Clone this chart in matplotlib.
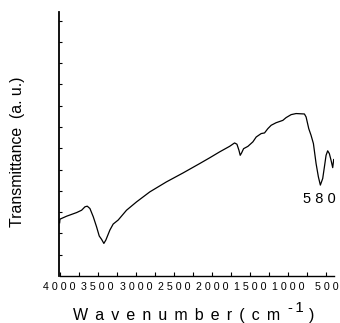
import matplotlib
matplotlib.use("Agg")
import matplotlib.pyplot as plt
from matplotlib.ticker import MultipleLocator, FixedLocator

plt.rcParams['font.family'] = ['Liberation Sans', 'DejaVu Sans']

wavenumber = [3998, 3994, 3906, 3775, 3710, 3666, 3636, 3601, 3557, 3514, 3479, 3448,
              3418, 3392, 3339, 3296, 3230, 3121, 2990, 2816, 2598, 2380, 2162, 2031,
              1900, 1769, 1704, 1673, 1647, 1630, 1612, 1586, 1529, 1464, 1420, 1355,
              1311, 1268, 1224, 1159, 1071, 1028, 962, 897, 788, 766, 731, 701, 670,
              635, 605, 579, 548, 526, 504, 483, 461, 439, 417, 404]
transmittance = [2.50, 2.67, 2.81, 2.98, 3.09, 3.25, 3.28, 3.17, 2.78, 2.31, 1.88, 1.72,
                 1.53, 1.69, 2.16, 2.44, 2.63, 3.09, 3.48, 3.95, 4.42, 4.84, 5.28, 5.55,
                 5.83, 6.09, 6.25, 6.19, 5.91, 5.67, 5.78, 5.98, 6.09, 6.30, 6.53, 6.69,
                 6.72, 6.92, 7.08, 7.20, 7.31, 7.44, 7.58, 7.63, 7.61, 7.47, 6.92, 6.61,
                 6.22, 5.28, 4.66, 4.27, 4.58, 5.12, 5.67, 5.88, 5.75, 5.44, 5.09, 5.47]
xticks = [4000, 3500, 3000, 2500, 2000, 1500, 1000, 500]
xticklabels = ["4 0 0 0", "3 5 0 0", "3 0 0 0", "2 5 0 0", "2 0 0 0", "1 5 0 0", "1 0 0 0", "5 0 0"]
peak_label = "5 8 0"
peak_pos = (591, 3.61)

W, H = 340, 323
fig = plt.figure(figsize=(W/100, H/100), dpi=100)
ax = fig.add_axes([59.5/W, 47/H, (334-59.5)/W, (276-12)/H])
ax.plot(wavenumber, transmittance, color='black', lw=0.9)
ax.set_xlim(4000, 400)
ax.set_ylim(0, 12.4)

ax.xaxis.set_major_locator(FixedLocator(xticks))
ax.set_xticklabels(xticklabels, fontsize=7.7)
ax.xaxis.set_minor_locator(MultipleLocator(250))
ax.yaxis.set_major_locator(FixedLocator(list(range(1, 13))))
ax.set_yticklabels([])
ax.tick_params(axis='x', which='both', direction='in', length=3, width=0.8, pad=4.5)
ax.tick_params(axis='y', which='both', direction='in', length=2, width=0.8)

for s in ['top', 'right']:
    ax.spines[s].set_visible(False)
ax.spines['left'].set_linewidth(1.3)
ax.spines['bottom'].set_linewidth(1.0)

ax.text(peak_pos[0], peak_pos[1], peak_label, fontsize=10.5, ha='center', va='center')

# x label built from pieces (letter-spaced, raised superscript)
gap = " \u2006"
main = gap.join(list("Wavenumber(cm"))
fs = 11.5
renderer = fig.canvas.get_renderer()
t1 = fig.text(73.0/W, 1 - 320/H, main, fontsize=fs, ha='left', va='baseline')
bb = t1.get_window_extent(renderer)
t2 = fig.text((bb.x1 + 7.5)/W, 1 - 312.3/H, "-\u20061", fontsize=10.8, ha='left', va='baseline')
bb2 = t2.get_window_extent(renderer)
fig.text((bb2.x1 + 6)/W, 1 - 320/H, ")", fontsize=fs, ha='left', va='baseline')

fig.text(18/W, 1 - 152/H, "Transmittance  (a. u.)", fontsize=11.4, rotation=90,
         ha='center', va='center')

fig.savefig("out.png", dpi=100)
